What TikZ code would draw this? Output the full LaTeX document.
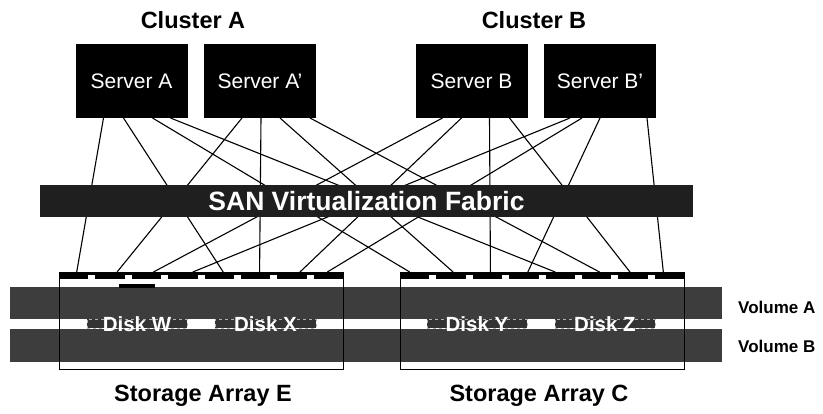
\documentclass[tikz,border=0pt]{standalone}
\usepackage{fontspec}
\setmainfont{Liberation Sans}
\begin{document}
\begin{tikzpicture}[x=1pt,y=-1pt,
  server/.style={fill=black, text=white, inner sep=0, outer sep=0,
    minimum width=112, minimum height=74, font=\fontsize{21}{24}\selectfont},
  fabric/.style={fill=black!88, text=white, inner sep=0, outer sep=0,
    minimum width=653, minimum height=32, font=\bfseries\fontsize{26.5}{30}\selectfont},
  band/.style={fill=black!76, inner sep=0, outer sep=0, minimum width=712},
  arraybox/.style={draw=black, line width=0.8pt, inner sep=0, outer sep=0,
    minimum width=284, minimum height=97},
  portseg/.style={fill=black, inner sep=0, outer sep=0, minimum width=29.4, minimum height=7.5},
  diskbox/.style={fill=black!80, draw=black!30, dashed, line width=0.7pt, inner sep=0,
    minimum width=100, minimum height=9},
  disklabel/.style={text=white, font=\bfseries\fontsize{20.5}{22}\selectfont, inner sep=0},
  title/.style={font=\bfseries\fontsize{23.5}{26}\selectfont, inner sep=0},
  vollabel/.style={font=\bfseries\fontsize{17}{20}\selectfont, inner sep=0, anchor=west},
  link/.style={line width=1.1pt, black}]

\useasboundingbox[fill=white] (0,0) rectangle (823,414);

% volume bands running across both arrays
\node[band, minimum height=32] (volA) at (366,303) {};
\node[band, minimum height=33] (volB) at (366,345.5) {};

% disks sitting between the two volume bands
\node[diskbox] (dW) at (137,324) {};
\node[diskbox, minimum width=101] (dX) at (265.5,324) {};
\node[diskbox] (dY) at (477,324) {};
\node[diskbox] (dZ) at (605,324) {};
\node[disklabel] at (dW) {Disk W};
\node[disklabel] at (dX) {Disk X};
\node[disklabel] at (dY) {Disk Y};
\node[disklabel] at (dZ) {Disk Z};

% storage array outlines
\node[arraybox] (arrE) at (201,320.5) {};
\node[arraybox] (arrC) at (542,320.5) {};
\fill[black] (119,284) rectangle (155,288.5);

% port strips with eight ports on each array
\fill[black] (arrE.north west) rectangle ([yshift=-3.5]arrE.north east);
\fill[black] (arrC.north west) rectangle ([yshift=-3.5]arrC.north east);
\foreach \i in {1,...,8}{
  \node[portseg] (e\i) at ({59+(\i-1)*36.375+14.7},275.75) {};
  \node[portseg] (c\i) at ({400+(\i-1)*36.375+14.7},275.75) {};
}

% servers
\node[server] (sA)  at (131.5,81) {Server A};
\node[server] (sAp) at (260,81)   {Server A'};
\node[server] (sB)  at (471.5,81) {Server B};
\node[server] (sBp) at (600,81)   {Server B'};

% every server reaches four ports through the fabric
\foreach \s/\dx/\p/\px in {
  sA/28/e1/3, sA/48/e5/4, sA/77/c1/-5, sA/95/c5/-5,
  sAp/38/e2/7, sAp/57/e6/4, sAp/76/c2/2, sAp/106/c6/3,
  sB/27/e3/7, sB/46/e7/8, sB/74/c3/3, sB/94/c7/-3,
  sBp/26/e4/10, sBp/38/e8/-1, sBp/56/c4/4, sBp/103/c8/-6}{
  \draw[link] ([xshift=\dx]\s.south west) -- ([xshift=\px]\p.north);
}

% virtualization fabric drawn over the links
\node[fabric] (fab) at (366.5,201) {SAN Virtualization Fabric};

% titles
\node[title] at (193,20) {Cluster A};
\node[title] at (534,20) {Cluster B};
\node[title] at (203,396) {Storage Array E};
\node[title] at (539,396) {Storage Array C};
\node[vollabel] at (738,307) {Volume A};
\node[vollabel] at (738,346) {Volume B};
\end{tikzpicture}
\end{document}
